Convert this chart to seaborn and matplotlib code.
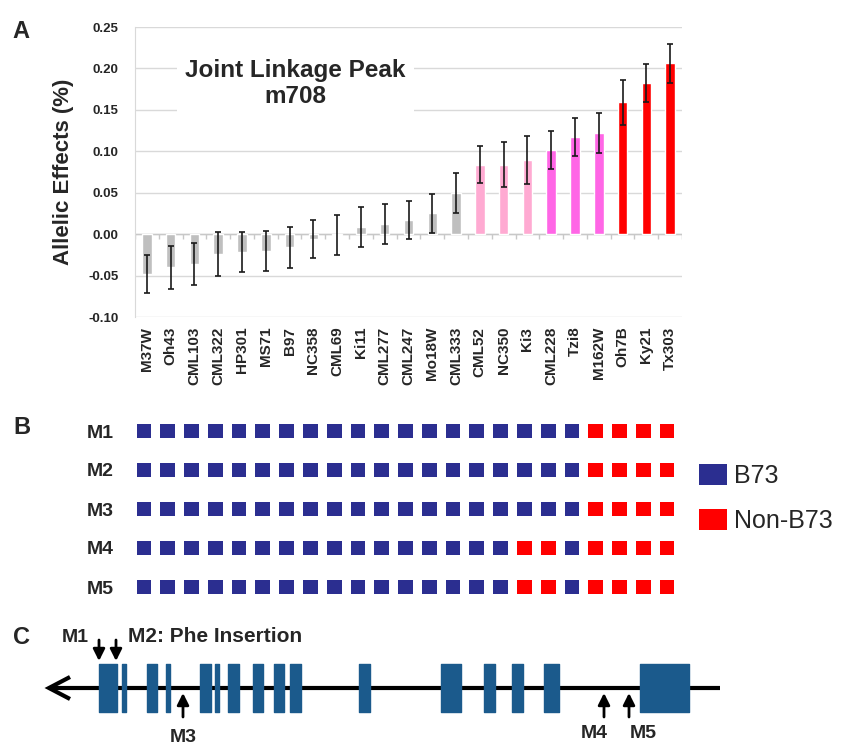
import pandas as pd
import matplotlib
matplotlib.use("Agg")
import matplotlib.pyplot as plt
from matplotlib.patches import Patch
import seaborn as sns

# panel A: allelic effects per founder line
lines = ['M37W', 'Oh43', 'CML103', 'CML322', 'HP301', 'MS71', 'B97', 'NC358',
         'CML69', 'Ki11', 'CML277', 'CML247', 'Mo18W', 'CML333', 'CML52', 'NC350',
         'Ki3', 'CML228', 'Tzi8', 'M162W', 'Oh7B', 'Ky21', 'Tx303']
effects = [-0.048, -0.040, -0.036, -0.024, -0.022, -0.020, -0.016, -0.006,
           -0.001, 0.009, 0.012, 0.017, 0.025, 0.050, 0.084, 0.084,
           0.089, 0.102, 0.117, 0.122, 0.159, 0.182, 0.206]
errors = [0.023, 0.026, 0.025, 0.026, 0.024, 0.024, 0.025, 0.023,
          0.024, 0.024, 0.024, 0.023, 0.024, 0.024, 0.022, 0.027,
          0.029, 0.023, 0.023, 0.024, 0.027, 0.023, 0.023]
groups = ['none'] * 14 + ['low'] * 3 + ['mid'] * 3 + ['high'] * 3
yticks = [-0.10, -0.05, 0.00, 0.05, 0.10, 0.15, 0.20, 0.25]

# panel B: genotype at markers M1..M5 (0 = B73, 1 = non-B73)
markers = ['M1', 'M2', 'M3', 'M4', 'M5']
m1 = [0] * 19 + [1] * 4
m2 = [0] * 19 + [1] * 4
m3 = [0] * 19 + [1] * 4
m4 = [0] * 16 + [1, 1, 0] + [1] * 4
m5 = [0] * 16 + [1, 1, 0] + [1] * 4
alleles = ['B73', 'Non-B73']

# panel C: gene model (exon start/end along the drawing)
exon_start = [99, 122, 147, 166, 200, 215, 228, 253, 274, 290, 359, 441, 484, 512, 544, 640]
exon_end = [117, 126, 157, 170, 211, 219, 239, 263, 284, 301, 370, 461, 495, 523, 559, 689]
down_marks = {'M1': 99, 'M2': 116}
up_marks = {'M3': 183, 'M4': 604, 'M5': 629}

group_colors = {'none': '#bfbfbf', 'low': '#ffaad2', 'mid': '#ff66e6', 'high': '#ff0000'}
b73_blue = '#2b2e90'
non_red = '#ff0000'
exon_blue = '#1b5a8c'

sns.set_style('white')
plt.rcParams['font.family'] = ['Liberation Sans', 'DejaVu Sans']

W, H = 841, 745
fig = plt.figure(figsize=(W / 100, H / 100), dpi=100)

def px_axes(left, top, width, height):
    return fig.add_axes([left / W, 1 - (top + height) / H, width / W, height / H])

# ---- panel A
ax = px_axes(135, 27, 547, 290)
df = pd.DataFrame({'line': lines, 'effect': effects, 'err': errors, 'group': groups})
bar_colors = [group_colors[g] for g in groups]
sns.barplot(data=df, x='line', y='effect', hue='line', palette=bar_colors,
            legend=False, width=0.4, saturation=1, errorbar=None, ax=ax, zorder=3)
ax.errorbar(range(len(lines)), df['effect'], yerr=df['err'], fmt='none',
            ecolor='#1a1a1a', elinewidth=1.2, capsize=2.5, capthick=1.2, zorder=4)
ax.set_xlim(-0.5, len(lines) - 0.5)
ax.set_ylim(-0.10, 0.25)
ax.set_yticks(yticks)
ax.set_yticklabels([f'{t:.2f}' for t in yticks], fontsize=9.5, fontweight='bold')
ax.yaxis.grid(True, color='#d9d9d9', lw=1)
ax.set_axisbelow(True)
ax.axhline(0, color='#c8c8c8', lw=1, zorder=2)
ax.vlines([k - 0.5 for k in range(len(lines) + 1)], -0.006, 0, color='#c8c8c8', lw=1, zorder=2)
ax.tick_params(axis='y', length=0, pad=12)
ax.tick_params(axis='x', length=0, pad=7)
ax.set_xticks(range(len(lines)))
ax.set_xticklabels(lines, rotation=90, fontsize=11, fontweight='bold', va='top')
for s in ['top', 'right', 'bottom']:
    ax.spines[s].set_visible(False)
ax.spines['left'].set_color('#d9d9d9')
ax.set_xlabel('')
ax.set_ylabel('Allelic Effects (%)', fontsize=16, fontweight='bold', labelpad=10)
ax.text(6.23, 0.182, 'Joint Linkage Peak\nm708', ha='center', va='center',
        fontsize=17.5, fontweight='bold', linespacing=1.2, zorder=5,
        bbox=dict(facecolor='white', edgecolor='none', pad=6))

# ---- panel B
axb = px_axes(132, 411.5, 547, 195)
geno = pd.DataFrame([{'col': c, 'row': r, 'allele': alleles[v]}
                     for r, row in enumerate([m1, m2, m3, m4, m5])
                     for c, v in enumerate(row)])
sns.scatterplot(data=geno, x='col', y='row', hue='allele', marker='s', s=112,
                palette={'B73': b73_blue, 'Non-B73': non_red}, linewidth=0,
                legend=False, ax=axb)
axb.set_xlim(-0.5, len(lines) - 0.5)
axb.set_ylim(len(markers) - 0.5, -0.5)
axb.set_yticks(range(len(markers)))
axb.set_yticklabels(markers, fontsize=14, fontweight='bold')
axb.set_xticks([])
axb.tick_params(axis='y', length=0, pad=13)
axb.set_xlabel('')
axb.set_ylabel('')
sns.despine(ax=axb, left=True, bottom=True)

handles = [Patch(facecolor=b73_blue, edgecolor='none', label='B73'),
           Patch(facecolor=non_red, edgecolor='none', label='Non-B73')]
fig.legend(handles=handles, loc='upper left', bbox_to_anchor=(699 / W, 1 - 464 / H),
           frameon=False, fontsize=18, handlelength=1.12, handleheight=0.88,
           handletextpad=0.3, labelspacing=0.84, borderpad=0, borderaxespad=0)

# ---- panel C
axc = px_axes(0, 600, W, 145)
axc.set_xlim(0, W)
axc.set_ylim(745, 600)
axc.axis('off')
axc.plot([50, 720], [688, 688], color='black', lw=3, solid_capstyle='butt')
axc.plot([70, 49, 70], [677, 688, 699], color='black', lw=3,
         solid_joinstyle='miter', solid_capstyle='butt')
axc.broken_barh([(s, e - s) for s, e in zip(exon_start, exon_end)], (664, 48),
                color=exon_blue, zorder=3)
arrow = dict(arrowstyle='-|>,head_length=0.7,head_width=0.35', color='black',
             lw=2, mutation_scale=10, shrinkA=0, shrinkB=0)
for name, x in down_marks.items():
    axc.annotate('', xy=(x, 661), xytext=(x, 640), arrowprops=arrow)
for name, x in up_marks.items():
    axc.annotate('', xy=(x, 693), xytext=(x, 717), arrowprops=arrow)
axc.text(75, 637, 'M1', ha='center', va='center', fontsize=14, fontweight='bold')
axc.text(128, 637, 'M2: Phe Insertion', ha='left', va='center', fontsize=15, fontweight='bold')
axc.text(183, 737, 'M3', ha='center', va='center', fontsize=14, fontweight='bold')
axc.text(594, 733, 'M4', ha='center', va='center', fontsize=14, fontweight='bold')
axc.text(643, 733, 'M5', ha='center', va='center', fontsize=14, fontweight='bold')

# panel letters
for letter, (x, y) in {'A': (21, 31), 'B': (22, 428), 'C': (21, 637)}.items():
    fig.text(x / W, 1 - y / H, letter, ha='center', va='center', fontsize=17, fontweight='bold')

fig.savefig('out.png', dpi=100)
